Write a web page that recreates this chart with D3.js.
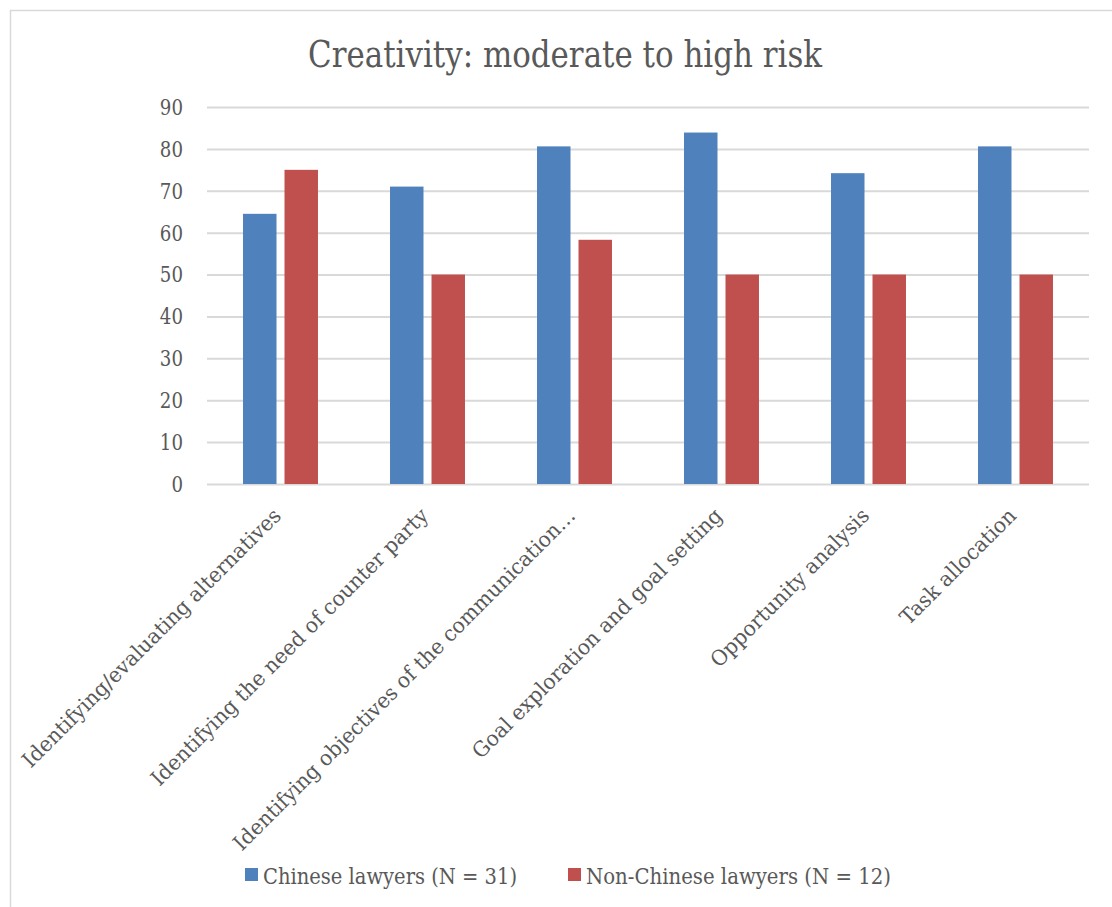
<!DOCTYPE html>
<html><head><meta charset="utf-8">
<script src="https://cdn.jsdelivr.net/npm/d3@7"></script>
<style>body{margin:0;background:#fff;} svg{display:block;}</style>
</head><body>
<script>
const categories = ["Identifying/evaluating alternatives","Identifying the need of counter party","Identifying objectives of the communication…","Goal exploration and goal setting","Opportunity analysis","Task allocation"];
const seriesNames = ["Chinese lawyers (N = 31)","Non-Chinese lawyers (N = 12)"];
const chinese = [64.5, 71.0, 80.6, 83.9, 74.2, 80.6];
const nonChinese = [75.0, 50.0, 58.3, 50.0, 50.0, 50.0];
const yTicks = [0,10,20,30,40,50,60,70,80,90];
const colors = ["#4f81bd","#c0504d"];

const W=1112,H=907;
const svg=d3.select("body").append("svg").attr("width",W).attr("height",H);
svg.append("rect").attr("x",10.5).attr("y",10.5).attr("width",1120).attr("height",1000).attr("fill","#fff").attr("stroke","#d9d9d9").attr("stroke-width",1.5);

const m={l:207,r:1089,t:107,b:484};
const y=d3.scaleLinear().domain([0,90]).range([m.b,m.t]);
const x0=d3.scaleBand().domain(categories).range([m.l,m.r]).paddingInner(0.49).paddingOuter(0.245);
const x1=d3.scaleBand().domain(seriesNames).range([0,x0.bandwidth()]).paddingInner(0.193);

const serif="'DejaVu Serif',serif";
const txt="#595959";
function squeeze(sel,k){ sel.each(function(){ const L=this.getComputedTextLength(); d3.select(this).attr("textLength",L*k).attr("lengthAdjust","spacingAndGlyphs"); }); }

svg.append("g").attr("transform",`translate(${m.l},0)`)
 .call(d3.axisLeft(y).tickValues(yTicks).tickSize(-(m.r-m.l)).tickFormat(d3.format("d")))
 .call(g=>g.select(".domain").remove())
 .call(g=>g.selectAll(".tick line").attr("stroke","#d9d9d9").attr("stroke-width",2))
 .call(g=>g.selectAll(".tick text").attr("x",-24).attr("fill",txt).style("font-family",serif).style("font-size","23px").call(squeeze,0.79));

const data=[chinese,nonChinese];
const grp=svg.append("g");
categories.forEach((c,i)=>{
  seriesNames.forEach((s,j)=>{
    grp.append("rect").attr("x",x0(c)+x1(s)).attr("width",x1.bandwidth())
      .attr("y",y(data[j][i])).attr("height",y(0)-y(data[j][i])).attr("fill",colors[j]);
  });
});

const xa=svg.append("g").attr("transform",`translate(0,${m.b})`)
 .call(d3.axisBottom(x0).tickSize(0).tickPadding(0));
xa.select(".domain").remove();
const xt=xa.selectAll(".tick text").attr("fill",txt).style("font-family",serif).style("font-size","21px")
 .attr("text-anchor","end").attr("dy",0).attr("y",0)
 .attr("transform","translate(2,33) rotate(-45)");
const L0=xt.node().getComputedTextLength();
squeeze(xt,356/L0);

const title=svg.append("text").attr("x",565).attr("y",67).attr("text-anchor","middle").attr("fill",txt)
 .style("font-family",serif).style("font-size","37px").text("Creativity: moderate to high risk");
title.attr("textLength",514).attr("lengthAdjust","spacingAndGlyphs");

const leg=svg.append("g");
const legX=[245,568], legW=[254,305];
seriesNames.forEach((s,j)=>{
  leg.append("rect").attr("x",legX[j]).attr("y",868).attr("width",13).attr("height",13).attr("fill",colors[j]);
  leg.append("text").attr("x",legX[j]+18).attr("y",884).attr("fill",txt).style("font-family",serif).style("font-size","22px")
    .attr("textLength",legW[j]).attr("lengthAdjust","spacingAndGlyphs").text(s);
});
</script>
</body></html>
